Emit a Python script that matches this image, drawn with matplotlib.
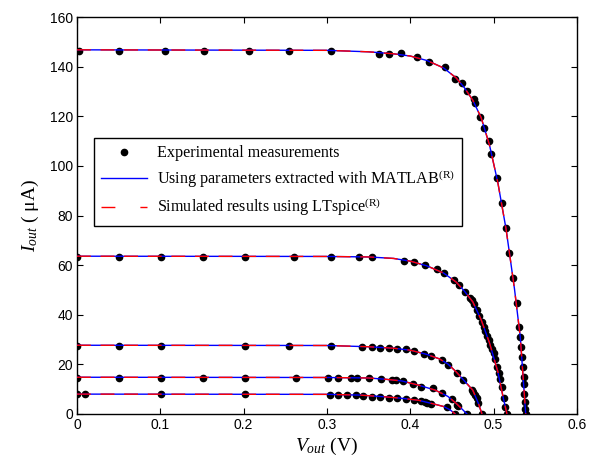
import matplotlib
matplotlib.use("Agg")
import matplotlib.pyplot as plt
from matplotlib.lines import Line2D

# ---------------- data ----------------
# Experimental measurements, five illumination levels
V1 = [0.003, 0.050, 0.106, 0.152, 0.207, 0.255, 0.305, 0.362, 0.374, 0.389, 0.408, 0.423, 0.442,
      0.454, 0.462, 0.468, 0.476, 0.478, 0.484, 0.489, 0.494, 0.497, 0.504, 0.510, 0.515, 0.519,
      0.523, 0.528, 0.531, 0.532, 0.533, 0.534, 0.535, 0.536, 0.5365, 0.537, 0.5375, 0.538, 0.539]
I1 = [146.5, 146.5, 146.5, 146.5, 146.5, 146.5, 146.5, 145.2, 145.2, 145.4, 144.1, 141.8, 140.0,
      135.0, 133.3, 130.4, 126.9, 125.3, 119.9, 115.2, 110.1, 104.7, 95.0, 85.2, 74.9, 64.8,
      55.0, 44.9, 35.2, 31, 27, 23, 19, 15, 12, 8, 5, 2, 0]

V2 = [0.0, 0.05, 0.101, 0.151, 0.202, 0.26, 0.305, 0.339, 0.354, 0.393, 0.404, 0.418, 0.432,
      0.441, 0.452, 0.458, 0.466, 0.472, 0.474, 0.477, 0.480, 0.483, 0.486, 0.488, 0.490, 0.492,
      0.494, 0.496, 0.498, 0.500, 0.502, 0.504, 0.506, 0.508, 0.510, 0.512, 0.514, 0.516]
I2 = [63.4, 63.4, 63.4, 63.4, 63.4, 63.4, 63.4, 63.4, 63.4, 61.8, 61.4, 60.1, 58.3,
      56.7, 54.0, 52.0, 49.3, 46.6, 46.0, 44.5, 41.9, 39.5, 37.0, 35.2, 33.5, 31.5,
      29.8, 27.8, 26.0, 24.5, 22.0, 19.1, 16.5, 14.0, 11.0, 6.5, 3.0, 0]

V3 = [0.0, 0.05, 0.101, 0.202, 0.2545, 0.305, 0.3425, 0.354, 0.364, 0.374, 0.3845, 0.3946,
      0.4046, 0.4166, 0.425, 0.4378, 0.4458, 0.4558, 0.4638, 0.4738, 0.4758, 0.4775, 0.4798,
      0.4818, 0.486]
I3 = [27.5, 27.5, 27.5, 27.5, 27.5, 27.5, 27.1, 26.9, 26.7, 26.7, 26.2, 26.2,
      25.4, 24.2, 23.4, 21.8, 19.8, 16.7, 13.7, 9.7, 9.0, 7.8, 6.3, 4.3, 0]

V4 = [0.0, 0.05, 0.101, 0.151, 0.202, 0.2625, 0.301, 0.313, 0.3287, 0.3366, 0.35, 0.365,
      0.378, 0.3826, 0.3917, 0.4038, 0.413, 0.427, 0.4378, 0.4498, 0.4558, 0.4578, 0.4678]
I4 = [14.6, 14.6, 14.6, 14.6, 14.6, 14.6, 14.6, 14.6, 14.6, 14.6, 14.6, 14.0,
      13.7, 13.7, 13.3, 12.0, 11.0, 10.4, 8.3, 6.0, 3.6, 3.2, 0]

V5 = [0.0, 0.0096, 0.101, 0.202, 0.3037, 0.3137, 0.3237, 0.3346, 0.3437, 0.3537, 0.364, 0.375,
      0.3845, 0.395, 0.4046, 0.4126, 0.4178, 0.4198, 0.425, 0.4438, 0.4538]
I5 = [7.9, 7.9, 7.9, 7.9, 7.7, 7.7, 7.7, 7.7, 7.4, 7.0, 7.0, 6.6,
      6.6, 6.0, 5.6, 5.4, 4.7, 4.3, 4.0, 2.9, 0]

# Model curves (MATLAB-extracted parameters / LTspice simulation)
MV1 = [0, 0.30, 0.35, 0.38, 0.40, 0.42, 0.44, 0.455, 0.465, 0.475, 0.485, 0.495, 0.505, 0.515,
       0.525, 0.532, 0.5385]
MI1 = [146.8, 146.6, 146.0, 145.2, 144.3, 142.5, 139.5, 135.5, 131.5, 126.5, 119.5, 108.5, 93.4,
       74.4, 50.5, 31.0, 0]
MV2 = [0, 0.30, 0.35, 0.38, 0.40, 0.42, 0.44, 0.455, 0.465, 0.475, 0.485, 0.495, 0.505, 0.512, 0.516]
MI2 = [63.6, 63.5, 63.3, 62.7, 61.6, 59.7, 56.8, 53.2, 49.5, 45.2, 38.0, 28.7, 17.1, 5.8, 0]
MV3 = [0, 0.30, 0.35, 0.38, 0.40, 0.42, 0.435, 0.445, 0.455, 0.465, 0.475, 0.482, 0.486]
MI3 = [27.7, 27.6, 27.1, 26.5, 25.7, 24.0, 22.2, 20.2, 17.0, 13.3, 9.6, 4.0, 0]
MV4 = [0, 0.30, 0.35, 0.37, 0.39, 0.41, 0.43, 0.445, 0.455, 0.462, 0.468]
MI4 = [14.8, 14.7, 14.5, 14.0, 13.3, 11.6, 9.6, 7.1, 4.3, 2.0, 0]
MV5 = [0, 0.30, 0.34, 0.37, 0.39, 0.41, 0.425, 0.44, 0.448, 0.454]
MI5 = [8.0, 7.9, 7.6, 6.9, 6.3, 5.5, 4.3, 3.0, 1.6, 0]

x_ticks = [0, 0.1, 0.2, 0.3, 0.4, 0.5, 0.6]
x_tick_labels = ["0", "0.1", "0.2", "0.3", "0.4", "0.5", "0.6"]
y_ticks = [0, 20, 40, 60, 80, 100, 120, 140, 160]
legend_labels = ["Experimental measurements",
                 r"Using parameters extracted with MATLAB$^{\rm (R)}$",
                 r"Simulated results using LTspice$^{\rm (R)}$"]

# ---------------- style ----------------
plt.rcParams["mathtext.fontset"] = "custom"
plt.rcParams["mathtext.rm"] = "Liberation Serif"
plt.rcParams["mathtext.it"] = "Liberation Serif:italic"
plt.rcParams["mathtext.bf"] = "Liberation Serif:bold"

fig = plt.figure(figsize=(6.01, 4.62), dpi=100)
ax = fig.add_axes([0.128, 0.104, 0.832, 0.859])

meas = list(zip([V1, V2, V3, V4, V5], [I1, I2, I3, I4, I5]))
model = list(zip([MV1, MV2, MV3, MV4, MV5], [MI1, MI2, MI3, MI4, MI5]))

for v, i in meas:
    ax.plot(v, i, linestyle="none", marker="o", markersize=4.5, color="black", zorder=2)
for v, i in model:
    ax.plot(v, i, color=(0, 0, 1), linewidth=1.0, zorder=3)
for v, i in model:
    ax.plot(v, i, color=(1, 0, 0), linewidth=1.0, dashes=(10, 7), zorder=4)

ax.set_xlim(0, 0.6)
ax.set_ylim(0, 160)
ax.set_xticks(x_ticks)
ax.set_xticklabels(x_tick_labels)
ax.set_yticks(y_ticks)
ax.tick_params(direction="in", top=True, right=True, length=4, width=0.8,
               labelsize=10, pad=3)
for lab in ax.get_xticklabels() + ax.get_yticklabels():
    lab.set_family("Liberation Sans")
for s in ax.spines.values():
    s.set_linewidth(1.0)

ax.set_xlabel(r"$V_{out}$ (V)", family="Liberation Serif", fontsize=14, labelpad=3)
ax.set_ylabel(r"$I_{out}$ ( μA)", family="Liberation Serif", fontsize=14, labelpad=6)

handles = [Line2D([], [], linestyle="none", marker="o", markersize=4.5, color="black"),
           Line2D([], [], color=(0, 0, 1), linewidth=1.0),
           Line2D([], [], color=(1, 0, 0), linewidth=1.0, dashes=(10, 18))]
leg = ax.legend(handles, legend_labels, loc="upper left", bbox_to_anchor=(0.034, 0.695),
                borderaxespad=0, fancybox=False, framealpha=1, edgecolor="black",
                prop={"family": "Liberation Serif", "size": 11.6}, handlelength=2.85,
                handletextpad=0.62, labelspacing=0.4, borderpad=0.45, numpoints=1)
leg.get_frame().set_linewidth(1.0)

fig.savefig("out.png", dpi=100)
